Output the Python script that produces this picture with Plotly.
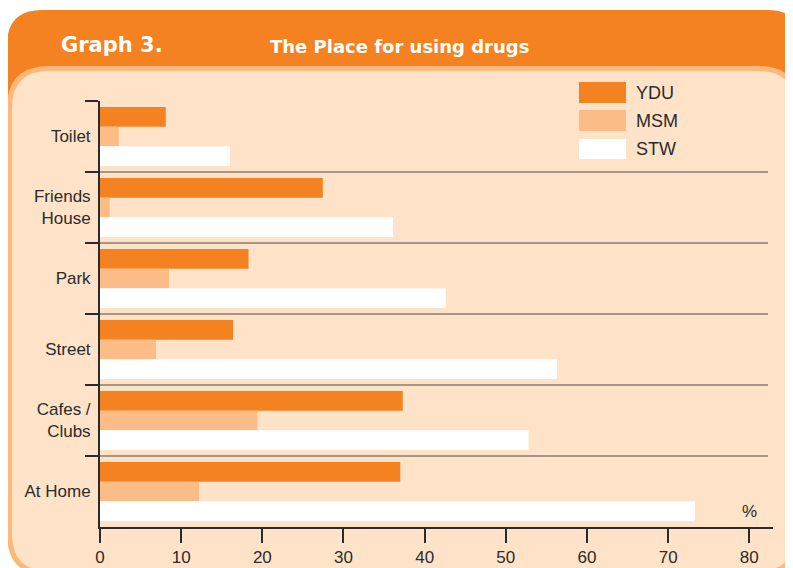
import plotly.graph_objects as go

# ---------------- data ----------------
categories = ["Toilet", "Friends<br>House", "Park", "Street", "Cafes /<br>Clubs", "At Home"]
series_names = ["YDU", "MSM", "STW"]
ydu = [8.1, 27.45, 18.3, 16.4, 37.3, 37.0]
msm = [2.3, 1.2, 8.5, 6.9, 19.4, 12.2]
stw = [16.0, 36.1, 42.6, 56.3, 52.8, 73.3]
x_tick_values = [0, 10, 20, 30, 40, 50, 60, 70, 80]
title_left = "Graph 3."
title_right = "The Place for using drugs"
unit_label = "%"

# ---------------- styling ----------------
ORANGE = "#F58220"
LIGHT = "#FBBC87"
WHITE = "#FFFFFF"
PEACH = "#FEE3C8"
BORDER = "#FDB97C"
INK = "#2B2B2B"
colors = [ORANGE, LIGHT, WHITE]

# page body has an 8px margin: figure is placed at (8, 8) in the window
OX, OY = 8, 8
W, H = 793 - OX, 568 - OY
# plot area in window pixels: x 100..773, y 101..527
L, R, T, B = 100 - OX, 20, 101 - OY, 41
PW, PH = W - L - R, H - T - B
XMAX = 82.92


def px(x):  # window pixel -> paper x
    return (x - OX - L) / PW


def py(y):  # window pixel -> paper y
    return (H - B - (y - OY)) / PH


def rounded_rect(x0, y0, x1, y1, r):
    return (
        f"M {px(x0)},{py(y0 + r)} "
        f"Q {px(x0)},{py(y0)} {px(x0 + r)},{py(y0)} "
        f"L {px(x1 - r)},{py(y0)} "
        f"Q {px(x1)},{py(y0)} {px(x1)},{py(y0 + r)} "
        f"L {px(x1)},{py(y1 - r)} "
        f"Q {px(x1)},{py(y1)} {px(x1 - r)},{py(y1)} "
        f"L {px(x0 + r)},{py(y1)} "
        f"Q {px(x0)},{py(y1)} {px(x0)},{py(y1 - r)} Z"
    )


ypos = list(range(len(categories)))
values = [ydu, msm, stw]

fig = go.Figure()
for name, vals, col in zip(series_names, values, colors):
    fig.add_trace(
        go.Bar(
            y=ypos,
            x=vals,
            orientation="h",
            name=name,
            marker=dict(color=col, line=dict(width=0)),
            showlegend=False,
            hoverinfo="x+name",
        )
    )

shapes = []
# outer orange header panel
outer_path = (
    f"M {px(7)},{py(200)} L {px(7)},{py(45)} "
    f"Q {px(7)},{py(10)} {px(42)},{py(10)} "
    f"L {px(768)},{py(10)} Q {px(800)},{py(10)} {px(800)},{py(42)} "
    f"L {px(800)},{py(200)} Z"
)
shapes.append(dict(type="path", xref="paper", yref="paper", path=outer_path,
                   fillcolor=ORANGE, line=dict(width=0), layer="below"))
# inner panel border and fill
shapes.append(dict(type="path", xref="paper", yref="paper",
                   path=rounded_rect(7, 66, 800, 576, 42),
                   fillcolor=BORDER, line=dict(width=0), layer="below"))
shapes.append(dict(type="path", xref="paper", yref="paper",
                   path=rounded_rect(12, 71, 795, 571, 37),
                   fillcolor=PEACH, line=dict(width=0), layer="below"))

# category separators
for i in range(len(categories) - 1):
    shapes.append(dict(type="line", xref="x", yref="y", x0=0, x1=82.3,
                       y0=i + 0.5, y1=i + 0.5,
                       line=dict(color="#4A4A4A", width=1), layer="above"))

# custom legend swatches
legend_rows = [(82, 103), (110, 131), (139, 159)]
annotations = []
for (y0, y1), name, col in zip(legend_rows, series_names, colors):
    shapes.append(dict(type="rect", xref="paper", yref="paper",
                       x0=px(579), x1=px(626), y0=py(y1), y1=py(y0),
                       fillcolor=col, line=dict(width=0)))
    annotations.append(dict(xref="paper", yref="paper", x=px(634), y=py((y0 + y1) / 2),
                            text=name, showarrow=False, xanchor="left", yanchor="middle",
                            font=dict(family="Liberation Sans, Arial, sans-serif", size=18, color=INK)))

annotations.append(dict(xref="paper", yref="paper", x=px(59), y=py(45), text=f"<b>{title_left}</b>",
                        showarrow=False, xanchor="left", yanchor="middle",
                        font=dict(family="DejaVu Sans, sans-serif", size=21, color="white")))
annotations.append(dict(xref="paper", yref="paper", x=px(268), y=py(46), text=f"<b>{title_right}</b>",
                        showarrow=False, xanchor="left", yanchor="middle",
                        font=dict(family="DejaVu Sans, sans-serif", size=18, color="white")))
annotations.append(dict(xref="paper", yref="paper", x=px(749), y=py(511), text=unit_label,
                        showarrow=False, xanchor="center", yanchor="middle",
                        font=dict(family="Liberation Sans, Arial, sans-serif", size=17, color=INK)))

fig.update_layout(
    width=W, height=H,
    margin=dict(l=L, r=R, t=T, b=B, pad=0, autoexpand=False),
    paper_bgcolor="white",
    plot_bgcolor="rgba(0,0,0,0)",
    barmode="group",
    bargap=0.17,
    bargroupgap=0,
    shapes=shapes,
    annotations=annotations,
    font=dict(family="Liberation Sans, Arial, sans-serif", color=INK),
    xaxis=dict(
        range=[0, XMAX], tickvals=x_tick_values, ticks="outside", ticklen=14,
        tickwidth=1.5, tickcolor=INK, showline=True, linecolor=INK, linewidth=1.5,
        showgrid=False, zeroline=False, tickfont=dict(size=17, color=INK),
        fixedrange=True, automargin=False,
    ),
    yaxis=dict(
        range=[len(categories) - 0.5, -0.5], tickvals=ypos, ticktext=categories,
        ticks="", showline=True, linecolor=INK, linewidth=2, showgrid=False,
        zeroline=False, tickfont=dict(size=17, color=INK), ticklabelstandoff=4,
        minor=dict(tickvals=[i - 0.5 for i in range(len(categories))], ticks="outside",
                   ticklen=13, tickwidth=2, tickcolor=INK, showgrid=False),
        fixedrange=True, automargin=False,
    ),
)

fig.write_html("out.html")
